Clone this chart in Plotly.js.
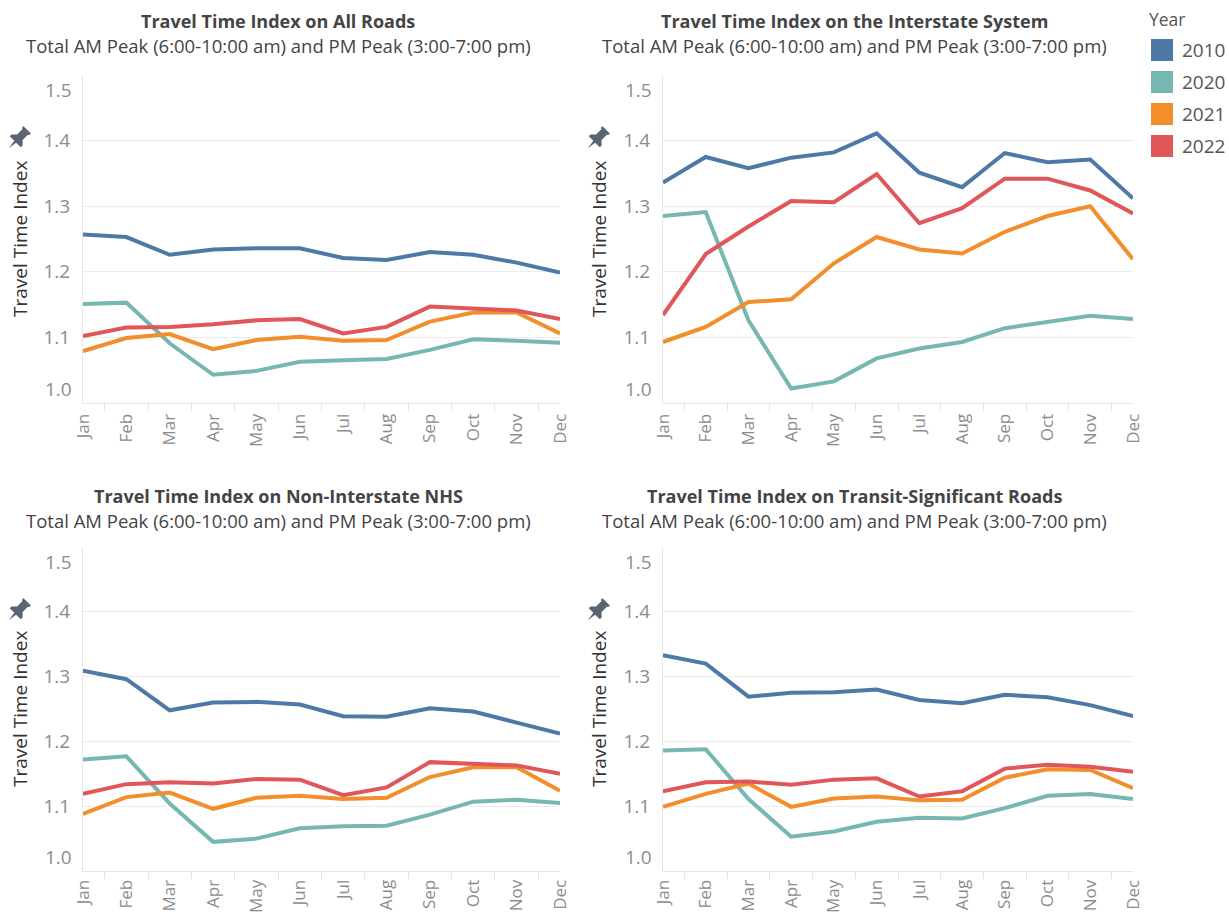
<!DOCTYPE html>
<html><head><meta charset="utf-8">
<script src="https://cdn.plot.ly/plotly-3.0.1.min.js"></script>
<style>html,body{margin:0;padding:0;background:#fff}#chart{width:1229px;height:915px}</style>
</head><body><div id="chart"></div>
<script>
const months = ['Jan','Feb','Mar','Apr','May','Jun','Jul','Aug','Sep','Oct','Nov','Dec'];
const years = ['2010','2020','2021','2022'];
const yearColors = ['#4e79a7','#76b7b2','#f28e2b','#e15759'];

const panelTitles = ['Travel Time Index on All Roads','Travel Time Index on the Interstate System','Travel Time Index on Non-Interstate NHS','Travel Time Index on Transit-Significant Roads'];
const subtitle = 'Total AM Peak (6:00-10:00 am) and PM Peak (3:00-7:00 pm)';
const yTitle = 'Travel Time Index';
const yTickVals = [1.0,1.1,1.2,1.3,1.4,1.5];
const yTickText = ['','1.1','1.2','1.3','1.4',''];

const allRoads_2010 = [1.257,1.253,1.226,1.234,1.236,1.236,1.221,1.218,1.230,1.226,1.214,1.199];
const allRoads_2020 = [1.151,1.153,1.091,1.043,1.049,1.063,1.065,1.067,1.081,1.097,1.095,1.092];
const allRoads_2021 = [1.079,1.099,1.105,1.082,1.096,1.101,1.095,1.096,1.124,1.138,1.138,1.106];
const allRoads_2022 = [1.102,1.115,1.116,1.120,1.126,1.128,1.106,1.116,1.147,1.144,1.141,1.128];

const interstate_2010 = [1.336,1.375,1.358,1.374,1.382,1.411,1.351,1.329,1.381,1.367,1.371,1.312];
const interstate_2020 = [1.285,1.291,1.126,1.022,1.033,1.068,1.083,1.093,1.114,1.124,1.133,1.128];
const interstate_2021 = [1.093,1.116,1.154,1.158,1.213,1.253,1.234,1.228,1.261,1.285,1.300,1.219];
const interstate_2022 = [1.134,1.227,1.269,1.308,1.306,1.349,1.274,1.297,1.342,1.342,1.324,1.289];

const nonInterstate_2010 = [1.309,1.296,1.248,1.260,1.261,1.257,1.239,1.238,1.251,1.246,1.229,1.212];
const nonInterstate_2020 = [1.172,1.177,1.104,1.045,1.050,1.066,1.069,1.070,1.087,1.107,1.110,1.105];
const nonInterstate_2021 = [1.088,1.114,1.121,1.096,1.113,1.116,1.111,1.113,1.145,1.160,1.160,1.124];
const nonInterstate_2022 = [1.119,1.134,1.137,1.135,1.142,1.141,1.117,1.129,1.168,1.166,1.163,1.150];

const transit_2010 = [1.333,1.320,1.269,1.275,1.276,1.280,1.264,1.259,1.272,1.268,1.256,1.239];
const transit_2020 = [1.186,1.188,1.111,1.053,1.061,1.076,1.082,1.081,1.097,1.116,1.119,1.111];
const transit_2021 = [1.099,1.119,1.135,1.099,1.112,1.115,1.109,1.110,1.144,1.157,1.156,1.128];
const transit_2022 = [1.123,1.137,1.138,1.133,1.141,1.143,1.115,1.123,1.158,1.164,1.161,1.153];

const panelSeries = [
  [allRoads_2010, allRoads_2020, allRoads_2021, allRoads_2022],
  [interstate_2010, interstate_2020, interstate_2021, interstate_2022],
  [nonInterstate_2010, nonInterstate_2020, nonInterstate_2021, nonInterstate_2022],
  [transit_2010, transit_2020, transit_2021, transit_2022]
];

const W = 1229, H = 915;
const px = x => x / W;
const py = y => 1 - y / H;

// panel geometry in pixels: [left, right, top, bottom]
const geo = [
  [83, 560, 75, 403],
  [663, 1133, 75, 403],
  [83, 560, 547, 871],
  [663, 1133, 547, 871]
];
const labelStandoff = [3, 3, 1, 1];
const titleX = [278, 854, 278, 854];
const titleY = [21, 21, 496, 496];
const axTitleX = [20, 599, 20, 599];
const pinX = [18, 597, 18, 597];

const FONT = 'Open Sans, sans-serif';
const traces = [];
const layout = {
  width: W, height: H,
  margin: {l:0, r:0, t:0, b:0},
  showlegend: false,
  paper_bgcolor: '#ffffff', plot_bgcolor: '#ffffff',
  font: {family: FONT, color: '#555'},
  annotations: [], shapes: []
};

function pinPath(cx, cy) {
  const k = 1.3;
  const pts = [[-4,-10],[4,-10],[4,-8],[3,-8],[3,-2],[6,1],[6,3],[1,3],[0,10],[-1,3],[-6,3],[-6,1],[-3,-2],[-3,-8],[-4,-8]];
  const c = Math.cos(Math.PI/4), s = Math.sin(Math.PI/4);
  return pts.map((p,i) => {
    const x = (p[0]*c - p[1]*s) * k + cx;
    const y = (p[0]*s + p[1]*c) * k + cy;
    return (i===0?'M':'L') + px(x).toFixed(5) + ',' + py(y).toFixed(5);
  }).join(' ') + ' Z';
}

for (let p = 0; p < 4; p++) {
  const n = p + 1;
  const xa = 'xaxis' + (n===1?'':n), ya = 'yaxis' + (n===1?'':n);
  const xr = 'x' + (n===1?'':n), yr = 'y' + (n===1?'':n);
  const g = geo[p];
  layout[xa] = {
    domain: [px(g[0]), px(g[1])], anchor: yr, type: 'category',
    categoryorder: 'array', categoryarray: months,
    tickangle: -90, ticks: 'outside', tickson: 'boundaries', ticklen: 7,
    tickcolor: '#e3e3e3', showline: true, linecolor: '#e3e3e3', linewidth: 1,
    showgrid: false, zeroline: false, automargin: false, ticklabelstandoff: labelStandoff[p],
    tickfont: {family: FONT, size: 17, color: '#8c8c8c'}
  };
  layout[ya] = {
    domain: [py(g[3]), py(g[2])], anchor: xr, range: [1.0, 1.5],
    tickvals: yTickVals, ticktext: yTickText,
    showgrid: true, gridcolor: '#ececec', gridwidth: 1, zeroline: false,
    showline: true, linecolor: '#e6e6e6', ticks: '', ticklabelstandoff: 8,
    automargin: false,
    tickfont: {family: FONT, size: 19, color: '#8c8c8c'}
  };
  panelSeries[p].forEach((vals, k) => {
    traces.push({
      type: 'scatter', mode: 'lines', x: months, y: vals, name: years[k],
      xaxis: xr, yaxis: yr,
      line: {color: yearColors[k], width: 4},
      hovertemplate: years[k] + ' %{x}: %{y:.3f}<extra></extra>'
    });
  });
  // edge tick labels (Tableau draws 1.5 and 1.0 inset from the edges)
  [['1.5', 1.477], ['1.0', 1.021]].forEach(([t, v]) => {
    layout.annotations.push({
      text: t, xref: xr + ' domain', x: 0, yref: yr, y: v,
      xanchor: 'right', yanchor: 'middle', xshift: -9, showarrow: false,
      font: {family: FONT, size: 19, color: '#8c8c8c'}
    });
  });
  // titles
  layout.annotations.push({
    text: '<b>' + panelTitles[p] + '</b>', xref: 'paper', yref: 'paper',
    x: px(titleX[p]), y: py(titleY[p]), xanchor: 'center', yanchor: 'middle',
    showarrow: false, font: {family: FONT, size: 18, color: '#444'}
  });
  layout.annotations.push({
    text: subtitle, xref: 'paper', yref: 'paper',
    x: px(titleX[p]), y: py(titleY[p] + 24), xanchor: 'center', yanchor: 'middle',
    showarrow: false, font: {family: FONT, size: 18.5, color: '#444'}
  });
  // y axis title
  layout.annotations.push({
    text: yTitle, xref: 'paper', yref: 'paper', textangle: -90,
    x: px(axTitleX[p]), y: py((g[2] + g[3]) / 2), xanchor: 'center', yanchor: 'middle',
    showarrow: false, font: {family: FONT, size: 19, color: '#333'}
  });
  // pin icon
  layout.shapes.push({
    type: 'path', xref: 'paper', yref: 'paper', path: pinPath(pinX[p], g[2] + 64),
    fillcolor: '#5b6472', line: {width: 0}
  });
}

// legend
layout.annotations.push({
  text: 'Year', xref: 'paper', yref: 'paper', x: px(1147), y: py(19),
  xanchor: 'left', yanchor: 'middle', showarrow: false,
  font: {family: FONT, size: 17.5, color: '#555'}
});
years.forEach((yr, k) => {
  const cy = 50 + 32 * k;
  layout.shapes.push({
    type: 'rect', xref: 'paper', yref: 'paper',
    x0: px(1151), x1: px(1173), y0: py(cy - 11), y1: py(cy + 11),
    fillcolor: yearColors[k], line: {width: 0}
  });
  layout.annotations.push({
    text: yr, xref: 'paper', yref: 'paper', x: px(1180), y: py(cy),
    xanchor: 'left', yanchor: 'middle', showarrow: false,
    font: {family: FONT, size: 19, color: '#555'}
  });
});

Plotly.newPlot('chart', traces, layout, {displayModeBar: false, staticPlot: true});
</script>
</body></html>
